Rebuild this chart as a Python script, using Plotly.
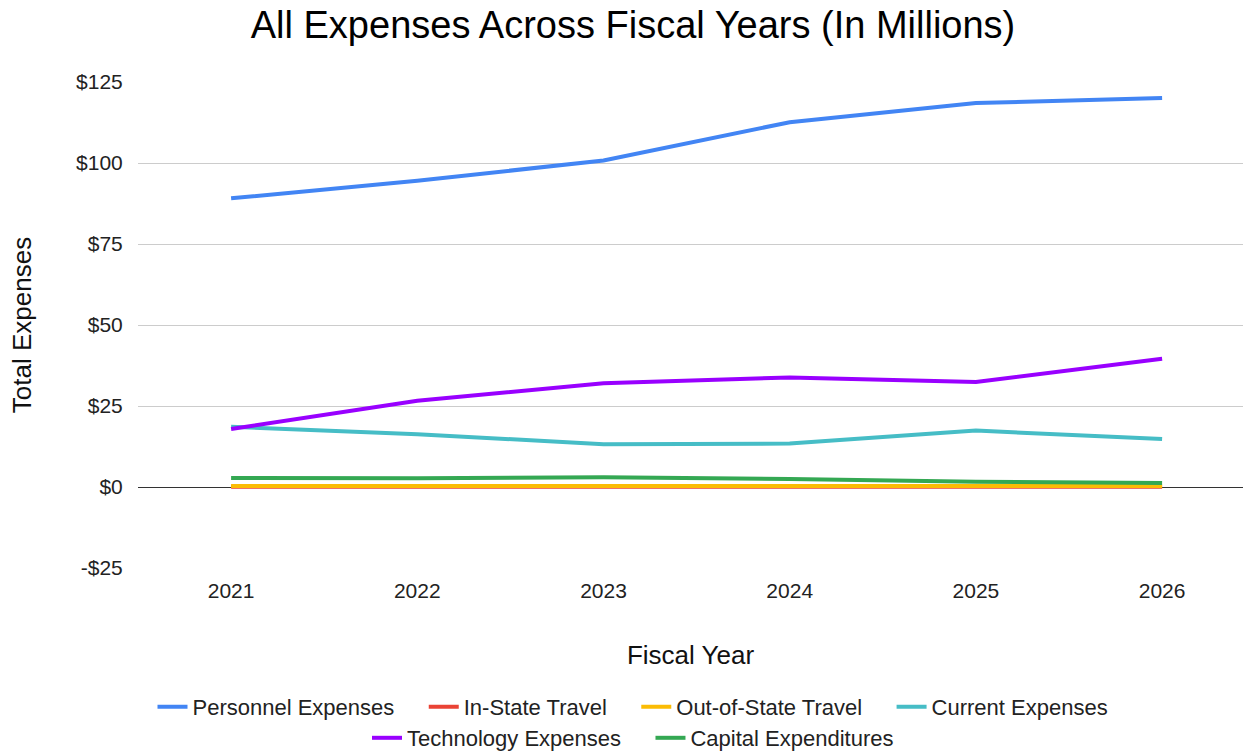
import plotly.graph_objects as go

# Fiscal years and expense series (millions of dollars)
years = [2021, 2022, 2023, 2024, 2025, 2026]
personnel = [89.1, 94.5, 100.8, 112.6, 118.5, 120.1]
in_state_travel = [0.1, 0.1, 0.1, 0.1, 0.1, 0.1]
out_of_state_travel = [0.3, 0.3, 0.3, 0.3, 0.3, 0.3]
current = [18.6, 16.3, 13.2, 13.4, 17.4, 14.8]
technology = [17.9, 26.6, 32.0, 33.8, 32.4, 39.6]
capital = [2.8, 2.7, 3.0, 2.5, 1.6, 1.2]

y_tick_values = [-25, 0, 25, 50, 75, 100, 125]
y_tick_labels = ["-$25", "$0", "$25", "$50", "$75", "$100", "$125"]
x_tick_labels = ["2021", "2022", "2023", "2024", "2025", "2026"]

# (name, values, colour, legend row, padding after the entry)
series = [
    ("Personnel Expenses", personnel, "#4285F4", "legend", True),
    ("In-State Travel", in_state_travel, "#EA4335", "legend", True),
    ("Out-of-State Travel", out_of_state_travel, "#FBBC04", "legend", True),
    ("Current Expenses", current, "#46BDC6", "legend", False),
    ("Technology Expenses", technology, "#9900FF", "legend2", True),
    ("Capital Expenditures", capital, "#34A853", "legend2", False),
]

FONT = "Liberation Sans, Arial, sans-serif"
PAD = "\u00a0" * 4  # spacing between legend entries

fig = go.Figure()
for name, values, color, leg, padded in series:
    fig.add_trace(go.Scatter(
        x=years, y=values, name=name + (PAD if padded else ""),
        mode="lines", line=dict(color=color, width=4),
        legend=leg,
    ))

W, H = 1243, 751
left, top, bottom = 138, 82, 183
step = 186.2  # pixels per year
x_lo = years[0] - 0.5
x_hi = x_lo + (W - left) / step

legend_style = dict(
    orientation="h", xanchor="center", yanchor="middle",
    xref="paper", yref="container",
    font=dict(family=FONT, size=22, color="#222"),
    itemwidth=30, bgcolor="rgba(0,0,0,0)",
    traceorder="normal",
)

fig.update_layout(
    width=W, height=H,
    margin=dict(l=left, r=0, t=top, b=bottom, pad=0),
    paper_bgcolor="white", plot_bgcolor="white",
    font=dict(family=FONT, color="#222"),
    title=dict(
        text="All Expenses Across Fiscal Years (In Millions)",
        x=633 / W, xref="container", xanchor="center",
        y=1 - 25 / H, yanchor="middle",
        font=dict(family=FONT, size=38, color="#000"),
    ),
    xaxis=dict(
        range=[x_lo, x_hi],
        tickvals=years, ticktext=x_tick_labels,
        showgrid=False, zeroline=False, showline=False,
        ticks="outside", ticklen=4, tickcolor="rgba(0,0,0,0)",
        tickfont=dict(family=FONT, size=21, color="#222"),
        title=dict(text="Fiscal Year", standoff=44,
                   font=dict(family=FONT, size=26, color="#111")),
        fixedrange=True,
    ),
    yaxis=dict(
        range=[-25, 125],
        tickvals=y_tick_values, ticktext=y_tick_labels,
        showgrid=True, gridcolor="#cccccc", gridwidth=1,
        zeroline=True, zerolinecolor="#333333", zerolinewidth=1,
        showline=False,
        ticks="outside", ticklen=10, tickcolor="rgba(0,0,0,0)",
        tickfont=dict(family=FONT, size=21, color="#222"),
        title=dict(text="Total Expenses", standoff=36,
                   font=dict(family=FONT, size=26, color="#111")),
        fixedrange=True,
    ),
    legend=dict(legend_style, x=(633 - left) / (W - left), y=1 - 707 / H),
    legend2=dict(legend_style, x=(633 - left) / (W - left), y=1 - 738 / H),
)

fig.write_html("out.html")
